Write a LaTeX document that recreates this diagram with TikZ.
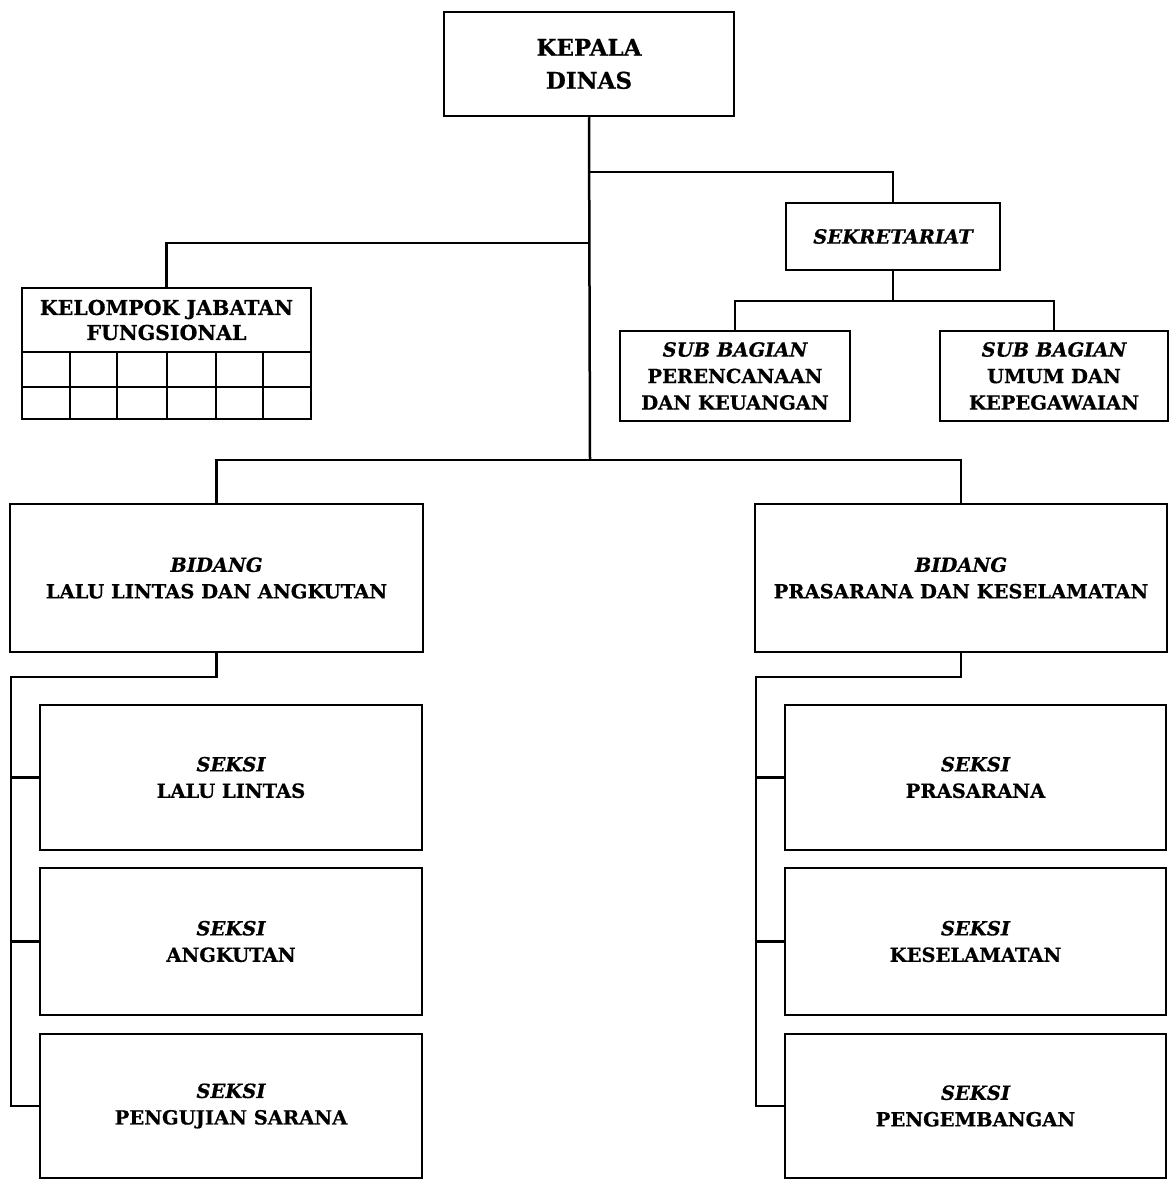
\documentclass[tikz,border=0pt]{standalone}
\usepackage{fontspec}
\setmainfont{DejaVu Serif}[BoldFeatures={FakeBold=0.6},BoldItalicFeatures={FakeBold=0.6}]
\begin{document}
\begin{tikzpicture}[x=1pt,y=-1pt,
  ln/.style={line width=2.5pt},
  box/.style={draw,line width=2.5pt,inner sep=0pt,align=center,
    font=\bfseries\fontsize{19.5}{26.5}\selectfont},
  big/.style={font=\bfseries\fontsize{23}{33}\selectfont},
  kfont/.style={font=\bfseries\fontsize{20.5}{25}\selectfont}]
\useasboundingbox (0,0) rectangle (1171,1180);
% top
\node[box,big,minimum width=290pt,minimum height=104pt] (kd) at (589,64) {KEPALA\\DINAS};
\node[box,minimum width=214pt,minimum height=67pt] (sek) at (893,236.5) {\itshape SEKRETARIAT};
\node[box,minimum width=230pt,minimum height=90pt] (sb1) at (735,376) {\itshape SUB BAGIAN\\PERENCANAAN\\DAN KEUANGAN};
\node[box,minimum width=228pt,minimum height=90pt] (sb2) at (1054,376) {\itshape SUB BAGIAN\\UMUM DAN\\KEPEGAWAIAN};
\node[box,kfont,minimum width=289pt,minimum height=64pt] (kjf) at (166.5,320) {KELOMPOK JABATAN\\FUNGSIONAL};
% grid under kjf
\draw[ln] (22,352) rectangle (311,419);
\draw[ln] (22,387) -- (311,387);
\foreach \gx in {70,117,167,216,263} \draw[ln] (\gx,352) -- (\gx,419);
% bidang
\node[box,minimum width=413pt,minimum height=148pt] (bl) at (216.5,578) {\itshape BIDANG\\LALU LINTAS DAN ANGKUTAN};
\node[box,minimum width=412pt,minimum height=148pt] (br) at (961,578) {\itshape BIDANG\\PRASARANA DAN KESELAMATAN};
% seksi left
\node[box,minimum width=382pt,minimum height=145pt] (s1) at (231,777.5) {\itshape SEKSI\\LALU LINTAS};
\node[box,minimum width=382pt,minimum height=147pt] (s2) at (231,941.5) {\itshape SEKSI\\ANGKUTAN};
\node[box,minimum width=382pt,minimum height=144pt] (s3) at (231,1106) {\itshape SEKSI\\PENGUJIAN SARANA};
% seksi right
\node[box,minimum width=381pt,minimum height=145pt] (r1) at (975.5,777.5) {\itshape SEKSI\\PRASARANA};
\node[box,minimum width=381pt,minimum height=147pt] (r2) at (975.5,941.5) {\itshape SEKSI\\KESELAMATAN};
\node[box,minimum width=381pt,minimum height=144pt] (r3) at (975.5,1106) {\itshape SEKSI\\PENGEMBANGAN};
% connectors
\coordinate (j1) at (590,460);
\coordinate (j2) at (590,172);
\coordinate (j3) at (590,243);
\coordinate (j4) at (893,301);
\coordinate (lb) at (11,677);
\coordinate (rb) at (756,677);
\draw[ln] (kd.south) -- (j1);
\draw[ln] (bl.north) |- (j1) -| (br.north);
\draw[ln] (j2) -| (sek.north);
\draw[ln] (kjf.north) |- (j3);
\draw[ln] (sek.south) -- (j4);
\draw[ln] (sb1.north) |- (j4) -| (sb2.north);
\draw[ln] (bl.south) |- (lb) |- (s3.west);
\draw[ln] (s1.west) -- (s1.west -| lb);
\draw[ln] (s2.west) -- (s2.west -| lb);
\draw[ln] (br.south) |- (rb) |- (r3.west);
\draw[ln] (r1.west) -- (r1.west -| rb);
\draw[ln] (r2.west) -- (r2.west -| rb);
\end{tikzpicture}
\end{document}
